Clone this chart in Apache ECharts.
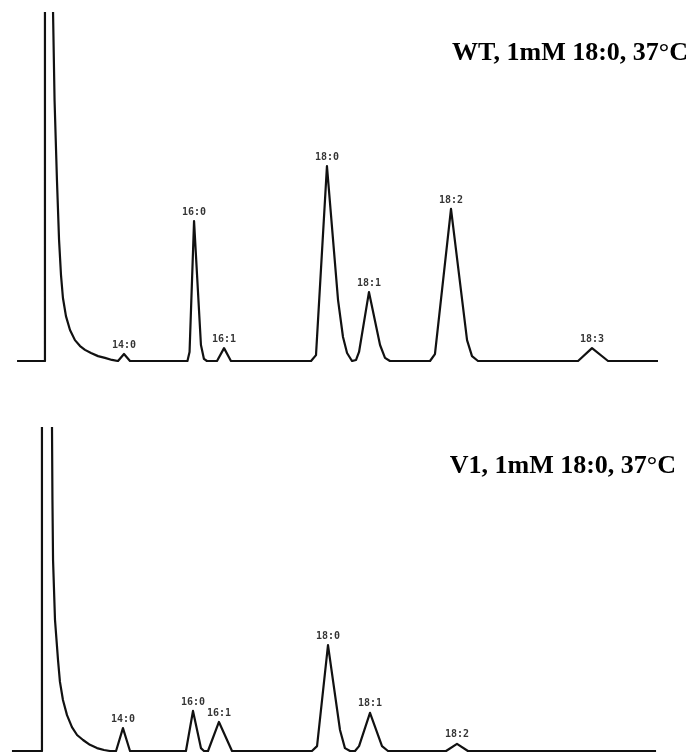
<!DOCTYPE html>
<html>
<head>
<meta charset="utf-8">
<script src="https://cdn.jsdelivr.net/npm/echarts@6/dist/echarts.min.js"></script>
<style>
  html, body { margin: 0; padding: 0; background: #ffffff; }
  #chart { width: 693px; height: 753px; }
</style>
</head>
<body>
<div id="chart"></div>
<script>
// Gas chromatograms of fatty acid methyl esters: retention time (min) vs detector response (%)
// The solvent front runs off scale (values above 100 are clipped by the grid).

// WT, 1mM 18:0, 37°C
const wtTrace = [
  [0.47, 0], [2.33, 0], [2.33, 120], [2.87, 120], [2.87, 100],
  [2.97, 75.0], [3.13, 52.0], [3.27, 34.8], [3.40, 24.7], [3.53, 18.1],
  [3.73, 12.9], [4.00, 8.9], [4.33, 6.0], [4.67, 4.3], [5.00, 3.2],
  [5.40, 2.3], [5.87, 1.4], [6.33, 0.9], [6.80, 0.3], [7.20, 0],
  [7.60, 2.0], [8.00, 0],
  [11.83, 0], [11.97, 2.6], [12.27, 40.2], [12.73, 4.6], [12.93, 0.6], [13.13, 0],
  [13.80, 0], [14.27, 3.7], [14.73, 0],
  [20.07, 0], [20.40, 1.7], [21.13, 56.0], [21.87, 17.5], [22.20, 6.9], [22.47, 2.3], [22.80, 0],
  [23.07, 0.3], [23.27, 2.6], [23.93, 19.8], [24.67, 4.6], [25.00, 0.9], [25.33, 0],
  [28.00, 0], [28.33, 2.0], [29.40, 43.7], [30.47, 6.0], [30.80, 1.4], [31.20, 0],
  [37.87, 0], [38.80, 3.7], [39.87, 0],
  [43.20, 0]
];
const wtPeakNames   = ['14:0', '16:0', '16:1', '18:0', '18:1', '18:2', '18:3'];
const wtPeakTimes   = [7.60, 12.27, 14.27, 21.13, 23.93, 29.40, 38.80];
const wtPeakHeights = [2.0, 40.2, 3.7, 56.0, 19.8, 43.7, 3.7];

// V1, 1mM 18:0, 37°C
const v1Trace = [
  [0.13, 0], [2.13, 0], [2.13, 120], [2.80, 120], [2.80, 100],
  [2.83, 77.7], [2.87, 59.1], [3.00, 40.6], [3.20, 28.2], [3.33, 21.4],
  [3.53, 15.8], [3.80, 11.1], [4.13, 7.4], [4.47, 4.95], [4.87, 3.4],
  [5.33, 1.9], [5.80, 0.9], [6.27, 0.3], [6.67, 0], [7.07, 0],
  [7.53, 7.1], [8.00, 0],
  [11.73, 0], [12.20, 12.4], [12.73, 0.9], [12.93, 0],
  [13.20, 0], [13.93, 9.0], [14.80, 0],
  [20.13, 0], [20.47, 1.5], [21.20, 32.8], [22.00, 6.5], [22.33, 0.9], [22.67, 0],
  [23.00, 0], [23.27, 1.5], [24.00, 11.8], [24.80, 1.5], [25.20, 0],
  [29.07, 0], [29.80, 2.2], [30.53, 0],
  [43.07, 0]
];
const v1PeakNames   = ['14:0', '16:0', '16:1', '18:0', '18:1', '18:2'];
const v1PeakTimes   = [7.53, 12.20, 13.93, 21.20, 24.00, 29.80];
const v1PeakHeights = [7.1, 12.4, 9.0, 32.8, 11.8, 2.2];

const panelTitles = ['WT, 1mM 18:0, 37°C', 'V1, 1mM 18:0, 37°C'];

const INK = '#111111';

function peakPoints(names, times, heights) {
  return names.map((n, i) => ({ name: n, value: [times[i], heights[i]] }));
}

function traceSeries(data, idx) {
  return {
    type: 'line',
    xAxisIndex: idx,
    yAxisIndex: idx,
    data: data,
    showSymbol: false,
    symbol: 'none',
    clip: true,
    silent: true,
    lineStyle: { color: INK, width: 2.2, join: 'round' }
  };
}

function labelSeries(data, idx) {
  return {
    type: 'scatter',
    xAxisIndex: idx,
    yAxisIndex: idx,
    data: data,
    symbolSize: 0,
    silent: true,
    label: {
      show: true,
      position: 'top',
      distance: 4,
      formatter: p => p.name,
      fontFamily: 'DejaVu Sans Mono',
      fontWeight: 'bold',
      fontSize: 10,
      color: '#000000'
    }
  };
}

const xAxisBase = { type: 'value', min: 0, max: 44, show: false };
const yAxisBase = { type: 'value', min: 0, max: 100, show: false };

const chart = echarts.init(document.getElementById('chart'), null, { renderer: 'canvas' });
chart.setOption({
  backgroundColor: '#ffffff',
  animation: false,
  grid: [
    { left: 10, width: 660, top: 13, height: 348 },
    { left: 10, width: 660, top: 428, height: 323 }
  ],
  xAxis: [
    Object.assign({ gridIndex: 0 }, xAxisBase),
    Object.assign({ gridIndex: 1 }, xAxisBase)
  ],
  yAxis: [
    Object.assign({ gridIndex: 0 }, yAxisBase),
    Object.assign({ gridIndex: 1 }, yAxisBase)
  ],
  series: [
    traceSeries(wtTrace, 0),
    labelSeries(peakPoints(wtPeakNames, wtPeakTimes, wtPeakHeights), 0),
    traceSeries(v1Trace, 1),
    labelSeries(peakPoints(v1PeakNames, v1PeakTimes, v1PeakHeights), 1)
  ],
  graphic: [
    {
      type: 'text', right: 5, top: 40, silent: true,
      style: {
        text: panelTitles[0],
        font: 'bold 26px "Liberation Serif", "Times New Roman", serif',
        fill: '#000000'
      }
    },
    {
      type: 'text', right: 17, top: 453, silent: true,
      style: {
        text: panelTitles[1],
        font: 'bold 26px "Liberation Serif", "Times New Roman", serif',
        fill: '#000000'
      }
    }
  ]
});
</script>
</body>
</html>
